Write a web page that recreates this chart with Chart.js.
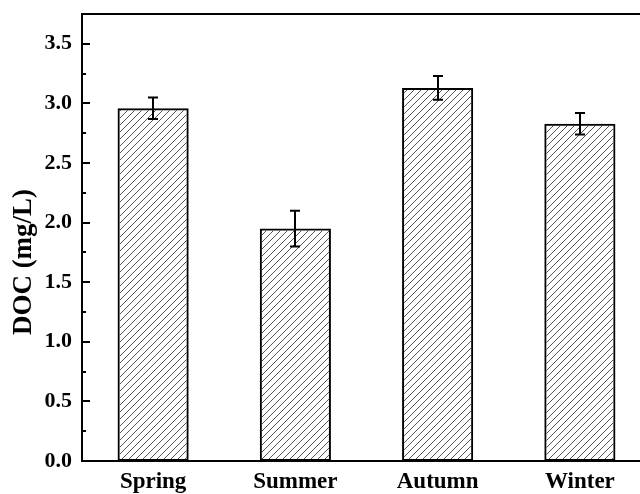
<!DOCTYPE html>
<html>
<head>
<meta charset="utf-8">
<script src="https://cdn.jsdelivr.net/npm/chart.js@4"></script>
<style>
  html, body { margin: 0; padding: 0; background: #fff; overflow: hidden; }
  canvas { display: block; }
</style>
</head>
<body>
<canvas id="docChart" width="660" height="494"></canvas>
<script>
const seasons = ['Spring', 'Summer', 'Autumn', 'Winter'];
const docValues = [2.96, 1.95, 3.13, 2.83];
const docErrors = [0.09, 0.15, 0.10, 0.09];
const yTicks = [0, 0.5, 1.0, 1.5, 2.0, 2.5, 3.0, 3.5];
const yTitle = 'DOC (mg/L)';

const serif = "'Liberation Serif', 'Times New Roman', serif";

// hatch pattern for the bars
function makeHatch() {
    const size = 7;
    const c = document.createElement('canvas');
    c.width = size;
    c.height = size;
    const g = c.getContext('2d');
    g.strokeStyle = '#555';
    g.lineWidth = 1;
    g.beginPath();
    g.moveTo(0, size);
    g.lineTo(size, 0);
    g.moveTo(-1, 1);
    g.lineTo(1, -1);
    g.moveTo(size - 1, size + 1);
    g.lineTo(size + 1, size - 1);
    g.stroke();
    return g.createPattern(c, 'repeat');
}

const ctx = document.getElementById('docChart').getContext('2d');

const framePlugin = {
    id: 'frameAndTicks',
    afterDatasetsDraw(chart) {
        const { ctx, chartArea: a, scales } = chart;
        const y = scales.y;
        ctx.save();
        ctx.strokeStyle = '#000';

        // error bars
        const meta = chart.getDatasetMeta(0);
        ctx.lineWidth = 2;
        docValues.forEach((v, i) => {
            const x = Math.round(meta.data[i].x);
            const yTop = y.getPixelForValue(v + docErrors[i]);
            const yBot = y.getPixelForValue(v - docErrors[i]);
            ctx.beginPath();
            ctx.moveTo(x, yTop);
            ctx.lineTo(x, yBot);
            ctx.moveTo(x - 5, yTop);
            ctx.lineTo(x + 5, yTop);
            ctx.moveTo(x - 5, yBot);
            ctx.lineTo(x + 5, yBot);
            ctx.stroke();
        });

        // frame
        ctx.lineWidth = 2;
        ctx.strokeRect(a.left, a.top, a.right - a.left, a.bottom - a.top);

        // inward ticks on the y axis
        for (let v = 0; v <= 3.75; v += 0.25) {
            const py = Math.round(y.getPixelForValue(v));
            const major = Math.abs(v / 0.5 - Math.round(v / 0.5)) < 1e-6;
            ctx.beginPath();
            ctx.moveTo(a.left, py);
            ctx.lineTo(a.left + (major ? 8 : 4), py);
            ctx.stroke();
        }

        // y axis title (sits a bit below the centre in the original)
        ctx.translate(24, 262);
        ctx.rotate(-Math.PI / 2);
        ctx.fillStyle = '#000';
        ctx.font = `bold 27px ${serif}`;
        ctx.textAlign = 'center';
        ctx.textBaseline = 'middle';
        ctx.fillText(yTitle, 0, 0);
        ctx.restore();
    }
};

const bgPlugin = {
    id: 'whiteBg',
    beforeDraw(chart) {
        const c = chart.ctx;
        c.save();
        c.fillStyle = '#fff';
        c.fillRect(0, 0, chart.width, chart.height);
        c.restore();
    }
};

new Chart(ctx, {
    type: 'bar',
    data: {
        labels: seasons,
        datasets: [{
            data: docValues,
            backgroundColor: makeHatch(),
            borderColor: '#000',
            borderWidth: 2,
            borderSkipped: false,
            barPercentage: 0.5,
            categoryPercentage: 1.0
        }]
    },
    options: {
        responsive: false,
        animation: false,
        layout: {
            padding: { top: 14, right: 9, left: 0, bottom: 0 }
        },
        plugins: {
            legend: { display: false },
            tooltip: { enabled: false }
        },
        scales: {
            x: {
                grid: { display: false, drawTicks: false },
                border: { display: false },
                ticks: {
                    color: '#000',
                    padding: 7,
                    font: { family: serif, size: 23, weight: 'bold' }
                },
                afterFit(scale) {
                    scale.height = 33;
                    scale.paddingLeft = 0;
                    scale.paddingRight = 0;
                }
            },
            y: {
                min: 0,
                max: 3.75,
                grid: { display: false, drawTicks: false },
                border: { display: false },
                afterBuildTicks(scale) {
                    scale.ticks = yTicks.map(v => ({ value: v }));
                },
                ticks: {
                    color: '#000',
                    padding: 10,
                    font: { family: serif, size: 22, weight: 'bold' },
                    callback: (v) => Number(v).toFixed(1)
                },
                afterFit(scale) {
                    scale.width = 82;
                    scale.paddingTop = 0;
                    scale.paddingBottom = 0;
                }
            }
        }
    },
    plugins: [bgPlugin, framePlugin]
});
</script>
</body>
</html>
